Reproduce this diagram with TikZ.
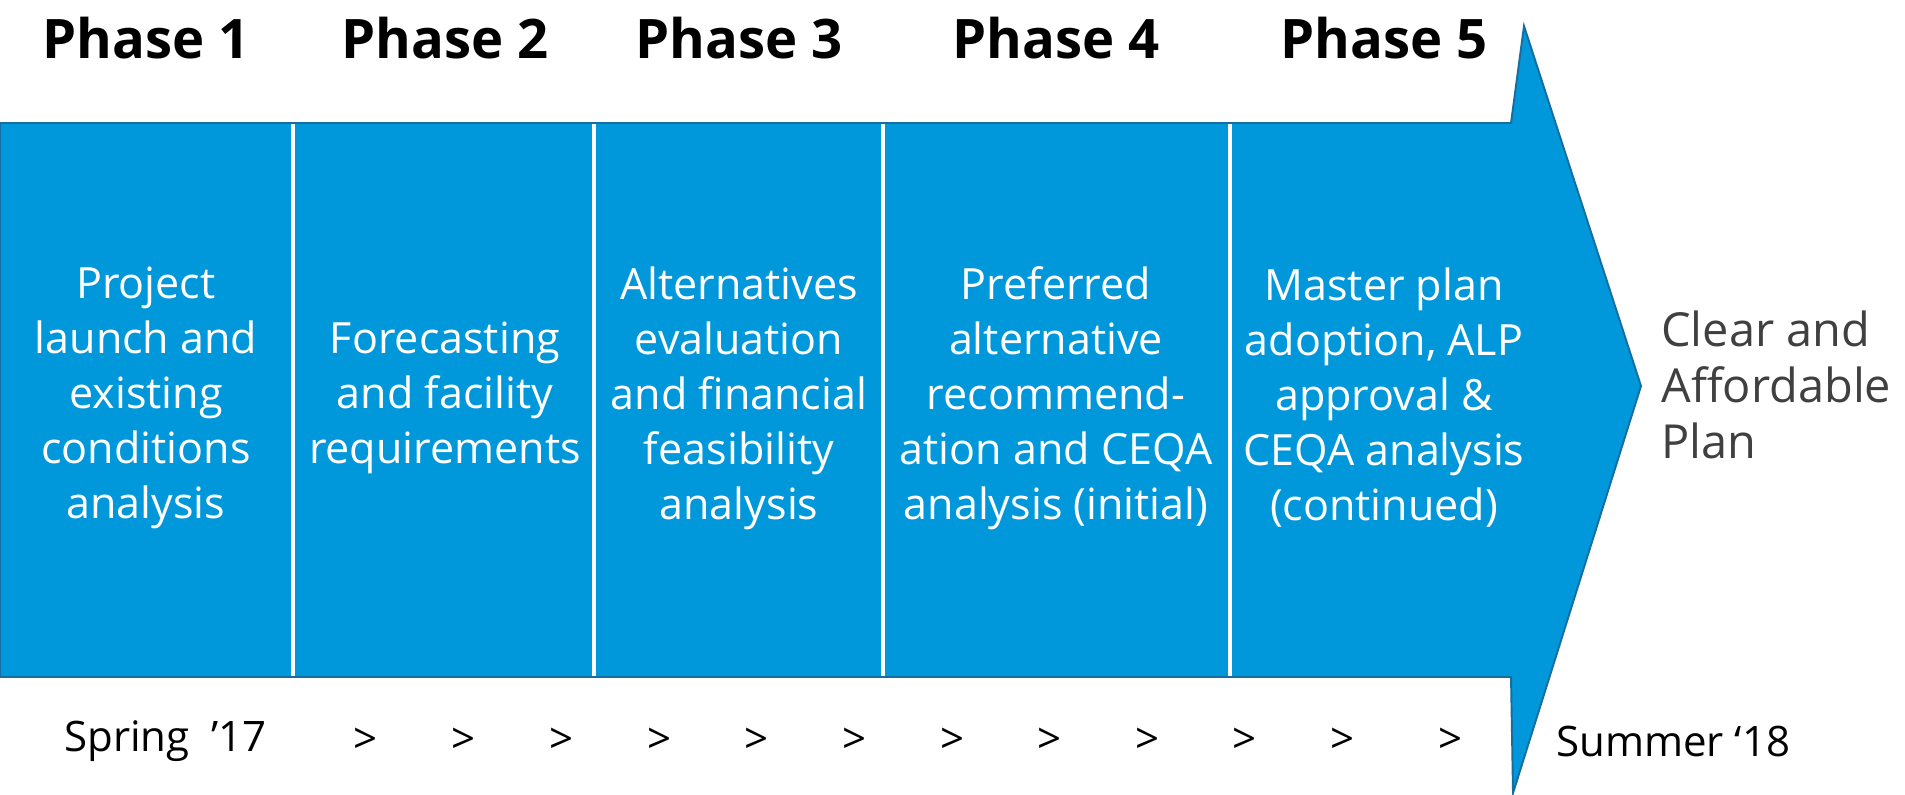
\documentclass[tikz,border=0pt]{standalone}
\usepackage{fontspec}
\setmainfont{Open Sans}
\usetikzlibrary{positioning}

\definecolor{phaseblue}{RGB}{0,152,218}
\definecolor{edgeblue}{RGB}{22,110,160}
\definecolor{plangray}{RGB}{64,64,64}

\begin{document}
\begin{tikzpicture}
[x=0.02cm, y=-0.02cm,
 phase/.style={font=\fontsize{31}{36}\selectfont\bfseries, inner sep=0pt},
 task/.style={font=\fontsize{24.5}{31.3}\selectfont, text=white, align=center, inner sep=0pt},
 date/.style={font=\fontsize{23.9}{28}\selectfont, inner sep=0pt},
 tick/.style={font=\fontsize{23.9}{28}\selectfont, inner sep=0pt},
 divider/.style={white, line width=1.8pt}
]
\useasboundingbox (0,0) rectangle (1905,794);

% big arrow
\filldraw[fill=phaseblue, draw=edgeblue, line width=1.1pt]
  (0,123) -- (1511,123) -- (1524,26) -- (1641,386) -- (1513,793) -- (1511,677) -- (0,677) -- cycle;

\coordinate (d1top) at (293,124); \coordinate (d1bot) at (293,676);
\coordinate (d2top) at (594,124); \coordinate (d2bot) at (594,676);
\coordinate (d3top) at (883,124); \coordinate (d3bot) at (883,676);
\coordinate (d4top) at (1230,124); \coordinate (d4bot) at (1230,676);
\draw[divider] (d1top) -- (d1bot);
\draw[divider] (d2top) -- (d2bot);
\draw[divider] (d3top) -- (d3bot);
\draw[divider] (d4top) -- (d4bot);

% phase headings
\node[phase] (ph1) at (146,38) {Phase 1};
\node[phase] (ph2) at (445,38) {Phase 2};
\node[phase] (ph3) at (739,38) {Phase 3};
\node[phase] (ph4) at (1056,38) {Phase 4};
\node[phase] (ph5) at (1384,38) {Phase 5};

% phase contents
\node[task] (launch) at (146,398) {Project\\launch and\\existing\\conditions\\analysis};
\node[task] (forecast) at (445,398) {Forecasting\\and facility\\requirements};
\node[task] (alts) at (739,398) {Alternatives\\evaluation\\and financial\\feasibility\\analysis};
\node[task] (preferred) at (1056,398) {Preferred\\alternative\\recommend-\\ation and CEQA\\analysis (initial)};
\node[task] (adoption) at (1384,398) {Master plan\\adoption, ALP\\approval \&\\CEQA analysis\\(continued)};

\node[font=\fontsize{26.7}{31.9}\selectfont, text=plangray, align=left, anchor=west, inner sep=0pt]
  (plan) at (1661,385) {Clear and\\Affordable\\Plan};

% timeline
\node[date, anchor=west] (spring) at (64,741) {Spring\ \ ’17};
\node[tick] (gt1) at (365,741) {>};
\node[tick] (gt2) at (463,741) {>};
\node[tick] (gt3) at (561,741) {>};
\node[tick] (gt4) at (659,741) {>};
\node[tick] (gt5) at (756,741) {>};
\node[tick] (gt6) at (854,741) {>};
\node[tick] (gt7) at (952,741) {>};
\node[tick] (gt8) at (1049,741) {>};
\node[tick] (gt9) at (1147,741) {>};
\node[tick] (gt10) at (1244,741) {>};
\node[tick] (gt11) at (1342,741) {>};
\node[tick] (gt12) at (1450,741) {>};
\node[date, anchor=west] (summer) at (1556,741) {Summer ‘18};
\end{tikzpicture}
\end{document}
